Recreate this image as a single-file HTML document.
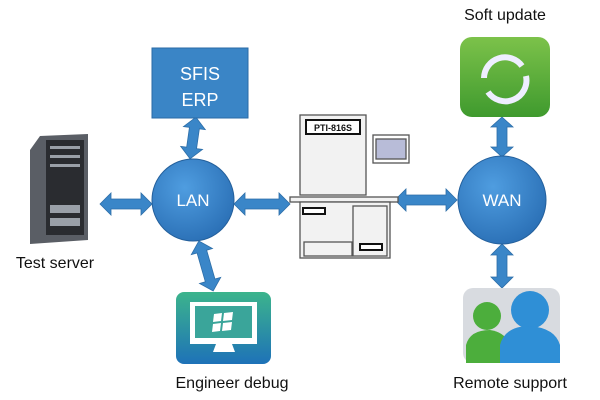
<!DOCTYPE html>
<html><head><meta charset="utf-8"><style>
html,body{margin:0;padding:0;background:#fff;width:600px;height:400px;overflow:hidden}
text{font-family:"Liberation Sans",sans-serif}
</style></head><body>
<svg width="600" height="400" viewBox="0 0 600 400" xmlns="http://www.w3.org/2000/svg">
<defs>
<radialGradient id="cg" cx="40%" cy="35%" r="70%"><stop offset="0" stop-color="#4f9de0"/><stop offset="1" stop-color="#2a6fb5"/></radialGradient>
<linearGradient id="gg" x1="0" y1="0" x2="0" y2="1"><stop offset="0" stop-color="#7cc24a"/><stop offset="1" stop-color="#3f9a2e"/></linearGradient>
<linearGradient id="eg" x1="0" y1="0" x2="0" y2="1"><stop offset="0" stop-color="#3cb48c"/><stop offset="1" stop-color="#1e72b8"/></linearGradient>
</defs>
<g fill="#3a86c8" stroke="#2d6ea8" stroke-width="0.8">
<g transform="translate(126,204)"><polygon points="-26,0 -15,-11 -15,-5 15,-5 15,-11 26,0 15,11 15,5 -15,5 -15,11"/></g>
<g transform="translate(262,204)"><polygon points="-28,0 -17,-11 -17,-5 17,-5 17,-11 28,0 17,11 17,5 -17,5 -17,11"/></g>
<g transform="translate(426,200)"><polygon points="-31,0 -20,-11 -20,-5 20,-5 20,-11 31,0 20,11 20,5 -20,5 -20,11"/></g>
<g transform="translate(193,138) rotate(98)"><polygon points="-21,0 -10,-11 -10,-5 10,-5 10,-11 21,0 10,11 10,5 -10,5 -10,11"/></g>
<g transform="translate(206,266) rotate(74)"><polygon points="-26,0 -15,-11 -15,-5 15,-5 15,-11 26,0 15,11 15,5 -15,5 -15,11"/></g>
<g transform="translate(502,137) rotate(90)"><polygon points="-20,0 -10,-11 -10,-5 10,-5 10,-11 20,0 10,11 10,5 -10,5 -10,11"/></g>
<g transform="translate(502,266) rotate(90)"><polygon points="-22,0 -11,-11 -11,-5 11,-5 11,-11 22,0 11,11 11,5 -11,5 -11,11"/></g>
</g>
<rect x="152" y="48" width="96" height="70" fill="#3a85c6" stroke="#2a6aa6"/>
<text x="200" y="80" font-size="18" fill="#fff" text-anchor="middle">SFIS</text>
<text x="200" y="106" font-size="18" fill="#fff" text-anchor="middle">ERP</text>
<circle cx="193" cy="200" r="41" fill="url(#cg)" stroke="#24609c"/>
<text x="193" y="206" font-size="17" fill="#fff" text-anchor="middle">LAN</text>
<circle cx="502" cy="200" r="44" fill="url(#cg)" stroke="#24609c"/>
<text x="502" y="206" font-size="17" fill="#fff" text-anchor="middle">WAN</text>
<path d="M30,150 L40,136 L88,134 L88,240 L30,244 Z" fill="#5a5e65"/>
<rect x="46" y="140" width="38" height="95" fill="#2a2c30"/>
<g fill="#9aa0a8"><rect x="50" y="146" width="30" height="3"/><rect x="50" y="155" width="30" height="3"/><rect x="50" y="164" width="30" height="3"/><rect x="50" y="205" width="30" height="8"/><rect x="50" y="218" width="30" height="8"/></g>
<text x="55" y="268" font-size="16" fill="#111" text-anchor="middle">Test server</text>
<g stroke="#555" fill="#f2f2f2" stroke-width="1.3">
<rect x="300" y="115" width="66" height="80"/>
<rect x="306" y="120" width="54" height="14" fill="#fff" stroke="#111" stroke-width="2"/>
<rect x="373" y="135" width="36" height="28" fill="#fff"/>
<rect x="376" y="139" width="30" height="20" fill="#b8bcd8"/>
<rect x="290" y="197" width="108" height="5"/>
<rect x="300" y="202" width="90" height="56"/>
<rect x="353" y="206" width="34" height="50"/>
<rect x="304" y="242" width="48" height="14"/>
</g>
<rect x="303" y="208" width="22" height="6" fill="#fff" stroke="#111" stroke-width="2"/>
<rect x="360" y="244" width="22" height="6" fill="#fff" stroke="#111" stroke-width="2"/>
<text x="333" y="131" font-size="9" font-weight="bold" fill="#111" text-anchor="middle">PTI-816S</text>
<rect x="460" y="37" width="90" height="80" rx="12" fill="url(#gg)"/>
<path d="M484,78 A21,21 0 0 1 522,66" stroke="#eef" stroke-width="6" fill="none"/>
<path d="M526,76 A21,21 0 0 1 488,92" stroke="#eef" stroke-width="6" fill="none"/>
<text x="505" y="20" font-size="16" fill="#111" text-anchor="middle">Soft update</text>
<rect x="463" y="288" width="97" height="75" rx="10" fill="#d8dbe0"/>
<circle cx="487" cy="316" r="14" fill="#4cae3c"/>
<path d="M466,363 L466,345 Q470,330 490,330 Q505,332 510,345 L510,363 Z" fill="#4cae3c"/>
<circle cx="530" cy="310" r="19" fill="#2f8fd6"/>
<path d="M500,363 L500,345 Q505,326 530,326 Q555,328 560,345 L560,363 Z" fill="#2f8fd6"/>
<text x="510" y="388" font-size="16" fill="#111" text-anchor="middle">Remote support</text>
<rect x="176" y="292" width="95" height="72" rx="8" fill="url(#eg)"/>
<rect x="190" y="302" width="67" height="42" fill="#fff"/>
<rect x="195" y="306" width="57" height="32" fill="#3aa59a"/>
<path d="M214,314 L222,313 L221,321 L213,322 Z M224,313 L233,312 L232,320 L223,321 Z M213,324 L221,323 L220,331 L212,332 Z M223,323 L232,322 L231,330 L222,331 Z" fill="#fff"/>
<path d="M216,344 L232,344 L235,352 L213,352 Z" fill="#fff"/>
<text x="232" y="388" font-size="16" fill="#111" text-anchor="middle">Engineer debug</text>
</svg>
</body></html>
